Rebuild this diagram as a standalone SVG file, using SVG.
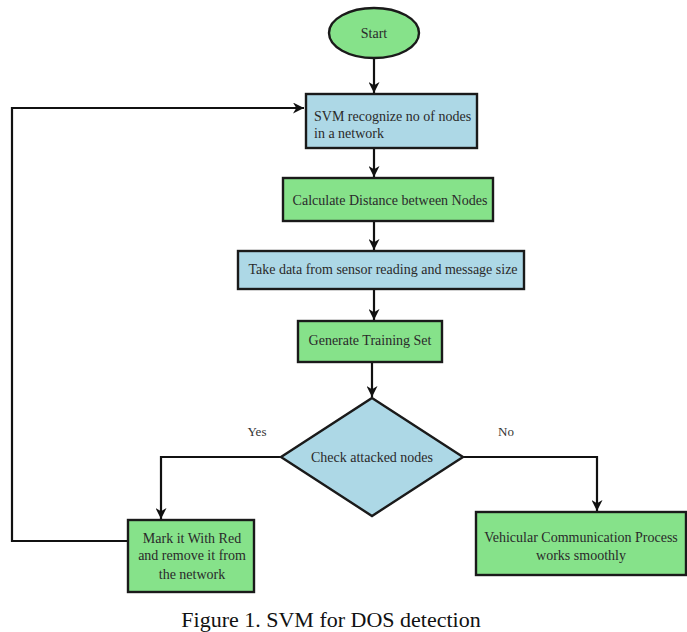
<svg xmlns="http://www.w3.org/2000/svg" width="687" height="632" viewBox="0 0 687 632">
<defs>
<marker id="arr" viewBox="0 0 10 10" refX="10" refY="5" markerWidth="11" markerHeight="11" markerUnits="userSpaceOnUse" orient="auto">
<path d="M0,0 L10,5 L0,10 L3,5 Z" fill="#111"/>
</marker>
<style>
.blue{fill:#add8e6;stroke:#1a1a1a;stroke-width:2.4}
.green{fill:#86e28a;stroke:#1a1a1a;stroke-width:2.4}
.con{fill:none;stroke:#111;stroke-width:2.2}
</style>
</defs>
<rect width="687" height="632" fill="#fff"/>
<g id="connectors">
<path class="con" d="M374,58 V93" marker-end="url(#arr)"/>
<path class="con" d="M374,148 V177" marker-end="url(#arr)"/>
<path class="con" d="M374,221 V250" marker-end="url(#arr)"/>
<path class="con" d="M374,289 V320" marker-end="url(#arr)"/>
<path class="con" d="M372,362 V397" marker-end="url(#arr)"/>
<path class="con" d="M281,457 H161 V519" marker-end="url(#arr)"/>
<path class="con" d="M463,457 H597 V511" marker-end="url(#arr)"/>
<path class="con" d="M128,541 H12 V108 H304" marker-end="url(#arr)"/>
<g font-family="'Liberation Serif','Times New Roman',serif" font-size="13" fill="#333" text-anchor="middle">
<text x="257" y="436">Yes</text>
<text x="506" y="436">No</text>
</g>
</g>
<g font-family="'Liberation Serif','Times New Roman',serif" font-size="14" fill="#2a2a2a">
<g id="start">
<ellipse class="green" cx="374" cy="33" rx="45" ry="25"/>
<text x="374" y="38" text-anchor="middle">Start</text>
</g>
<g id="svm">
<rect class="blue" x="306" y="94" width="171" height="54"/>
<text x="314" y="121">SVM recognize no of nodes</text>
<text x="314" y="138">in a network</text>
</g>
<g id="calc">
<rect class="green" x="283" y="178" width="210" height="43"/>
<text x="390" y="205" text-anchor="middle">Calculate Distance between Nodes</text>
</g>
<g id="take">
<rect class="blue" x="238" y="251" width="286" height="38"/>
<text x="383" y="274" text-anchor="middle">Take data from sensor reading and message size</text>
</g>
<g id="gen">
<rect class="green" x="298" y="321" width="144" height="41"/>
<text x="370" y="345" text-anchor="middle">Generate Training Set</text>
</g>
<g id="check">
<polygon class="blue" points="372,398 463,457 372,516 281,457"/>
<text x="372" y="462" text-anchor="middle">Check attacked nodes</text>
</g>
<g id="mark">
<rect class="green" x="128" y="520" width="126" height="72"/>
<text x="192" y="543" text-anchor="middle">Mark it With Red</text>
<text x="192" y="560" text-anchor="middle">and remove it from</text>
<text x="192" y="579" text-anchor="middle">the network</text>
</g>
<g id="vehicular">
<rect class="green" x="476" y="512" width="210" height="63"/>
<text x="581" y="542" text-anchor="middle">Vehicular Communication Process</text>
<text x="581" y="560" text-anchor="middle">works smoothly</text>
</g>
</g>
<text x="331" y="627" text-anchor="middle" font-family="'Liberation Serif','Times New Roman',serif" font-size="22" fill="#111">Figure 1. SVM for DOS detection</text>
</svg>
